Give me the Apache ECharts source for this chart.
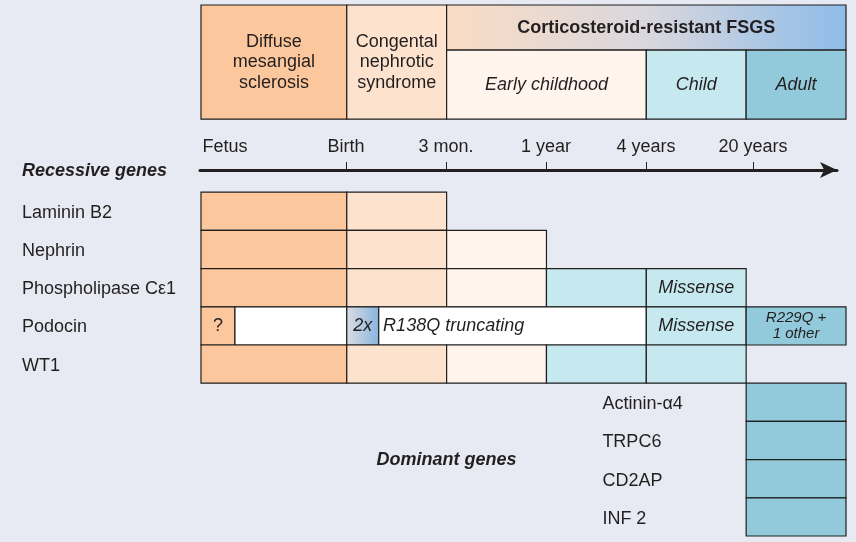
<!DOCTYPE html>
<html>
<head>
<meta charset="utf-8">
<script src="https://cdn.jsdelivr.net/npm/echarts@6/dist/echarts.min.js"></script>
<style>
html,body{margin:0;padding:0;background:#e7eaf2;}
#c{width:856px;height:542px;}
</style>
</head>
<body>
<div id="c"></div>
<script>
// ---------- data ----------
const stageNames = ['Fetus', 'Birth', '3 mon.', '1 year', '4 years', '20 years'];
const stageLabelValues = [-1.21, 0, 1, 2, 3, 4.07];
const stageTickValues = [0, 1, 2, 3, 4.07];
const timeStart = -1.46, timeEnd = 5, axisEnd = 4.91;
const rowTop = -4.9, rowBottom = 9;

const headerTitles = ['Diffuse\nmesangial\nsclerosis', 'Congental\nnephrotic\nsyndrome', 'Corticosteroid-resistant FSGS', 'Early childhood', 'Child', 'Adult'];
const headerSpans = [[-1.46, 0, -4.9, -1.91], [0, 1, -4.9, -1.91], [1, 5, -4.9, -3.72], [1, 3, -3.72, -1.91], [3, 4, -3.72, -1.91], [4, 5, -3.72, -1.91]];
const headerKinds = ['dms', 'cns', 'fsgs', 'early', 'child', 'adult'];

const recessiveTitle = 'Recessive genes';
const recessiveGenes = ['Laminin B2', 'Nephrin', 'Phospholipase C\u03b51', 'Podocin', 'WT1'];
const recessiveCells = [
  [[-1.46, 0, 'dms', ''], [0, 1, 'cns', '']],
  [[-1.46, 0, 'dms', ''], [0, 1, 'cns', ''], [1, 2, 'early', '']],
  [[-1.46, 0, 'dms', ''], [0, 1, 'cns', ''], [1, 2, 'early', ''], [2, 3, 'child', ''], [3, 4, 'child', 'Missense']],
  [[-1.46, -1.12, 'dms', '?'], [-1.12, 0, 'white', ''], [0, 0.32, 'twox', '2x'], [0.32, 3, 'white', 'R138Q truncating'], [3, 4, 'child', 'Missense'], [4, 5, 'adult', 'R229Q +\n1 other']],
  [[-1.46, 0, 'dms', ''], [0, 1, 'cns', ''], [1, 2, 'early', ''], [2, 3, 'child', ''], [3, 4, 'child', '']]
];

const dominantTitle = 'Dominant genes';
const dominantGenes = ['Actinin-\u03b14', 'TRPC6', 'CD2AP', 'INF 2'];
const dominantSpan = [4, 5];
const dominantFirstRow = 5;

// ---------- styles ----------
const FONT = '"Liberation Sans", Arial, Helvetica, sans-serif';
const INK = '#231f20';
const fills = {
  dms: '#fcc79c',
  cns: '#fde3cd',
  early: '#fff5ed',
  child: '#c6e9f0',
  adult: '#93cadb',
  white: '#ffffff',
  fsgs: new echarts.graphic.LinearGradient(0, 0, 1, 0, [
    {offset: 0, color: '#fadcc4'}, {offset: 0.5, color: '#d9d7dd'}, {offset: 1, color: '#8ebce9'}]),
  twox: new echarts.graphic.LinearGradient(0, 0, 1, 0, [
    {offset: 0, color: '#dcdde2'}, {offset: 1, color: '#88b4df'}])
};

// ---------- build cells ----------
const cells = [];
headerTitles.forEach((t, i) => {
  const s = headerSpans[i];
  cells.push({x0: s[0], x1: s[1], y0: s[2], y1: s[3], kind: headerKinds[i], text: t,
    bold: headerKinds[i] === 'fsgs', italic: i >= 3, pos: 'inside', size: 18});
});
recessiveCells.forEach((row, r) => {
  row.forEach(c => {
    cells.push({x0: c[0], x1: c[1], y0: r, y1: r + 1, kind: c[2], text: c[3],
      italic: c[3] !== '?' && c[3] !== '', pos: c[3] === 'R138Q truncating' ? 'insideLeft' : 'inside',
      size: c[3].indexOf('R229Q') === 0 ? 15 : 18});
  });
});
dominantGenes.forEach((g, i) => {
  cells.push({x0: dominantSpan[0], x1: dominantSpan[1], y0: dominantFirstRow + i, y1: dominantFirstRow + i + 1,
    kind: 'adult', text: '', pos: 'inside', size: 18});
});

const texts = [];
dominantGenes.forEach((g, i) => texts.push({x: 2.56, y: dominantFirstRow + i + 0.55, text: g, align: 'left', bold: false, italic: false}));
texts.push({x: 1, y: 7, text: dominantTitle, align: 'center', bold: true, italic: true});

const leftLabelValues = [-0.55].concat(recessiveGenes.map((g, i) => i + 0.54));
const leftLabelTexts = ['{b|' + recessiveTitle + '}'].concat(recessiveGenes);

const mainWidth = 645;
const axisWidth = (axisEnd - timeStart) / (timeEnd - timeStart) * mainWidth;

function nearest(arr, v) {
  let k = 0, best = 1e9;
  arr.forEach((s, i) => { if (Math.abs(s - v) < best) { best = Math.abs(s - v); k = i; } });
  return k;
}

const chart = echarts.init(document.getElementById('c'));
chart.setOption({
  backgroundColor: '#e7eaf2',
  animation: false,
  textStyle: {fontFamily: FONT},
  grid: [
    {left: 201, top: 5, width: mainWidth, height: 531},
    {left: 200, top: 150, width: axisWidth + 1, height: 20}
  ],
  xAxis: [
    {gridIndex: 0, type: 'value', min: timeStart, max: timeEnd, show: false},
    {gridIndex: 1, type: 'value', min: timeStart, max: axisEnd, position: 'bottom',
      splitLine: {show: false},
      axisLine: {show: true, lineStyle: {color: INK, width: 3}, symbol: ['none', 'arrow'], symbolSize: [12, 17]},
      axisTick: {show: true, inside: true, length: 8, customValues: stageTickValues, lineStyle: {color: INK, width: 1}},
      axisLabel: {show: true, inside: true, margin: 14, customValues: stageLabelValues, color: INK, fontSize: 18, fontFamily: FONT,
        formatter: v => stageNames[nearest(stageLabelValues, v)]}
    }
  ],
  yAxis: [
    {gridIndex: 0, type: 'value', inverse: true, min: rowTop, max: rowBottom,
      axisLine: {show: false}, axisTick: {show: false}, splitLine: {show: false},
      axisLabel: {show: true, customValues: leftLabelValues, align: 'left', margin: 179, color: INK, fontSize: 18, fontFamily: FONT,
        formatter: v => leftLabelTexts[nearest(leftLabelValues, v)],
        rich: {b: {fontWeight: 'bold', fontStyle: 'italic', fontSize: 18, color: INK, fontFamily: FONT}}
      }},
    {gridIndex: 1, type: 'value', show: false, min: 0, max: 1}
  ],
  series: [
    {
      type: 'custom', xAxisIndex: 0, yAxisIndex: 0, coordinateSystem: 'cartesian2d',
      data: cells.map(c => [c.x0, c.x1, c.y0, c.y1]),
      clip: false,
      renderItem: (params, api) => {
        const c = cells[params.dataIndex];
        const p0 = api.coord([c.x0, c.y0]);
        const p1 = api.coord([c.x1, c.y1]);
        return {
          type: 'rect',
          shape: {x: p0[0], y: p0[1], width: p1[0] - p0[0], height: p1[1] - p0[1]},
          style: {fill: fills[c.kind], stroke: '#1f1f1f', lineWidth: 1.2},
          textContent: c.text ? {
            style: {
              text: c.text, fill: INK, fontFamily: FONT, fontSize: c.size,
              fontWeight: c.bold ? 'bold' : 'normal', fontStyle: c.italic ? 'italic' : 'normal',
              align: c.pos === 'insideLeft' ? 'left' : 'center', verticalAlign: 'middle',
              lineHeight: c.size === 15 ? 16 : 20.5
            }
          } : undefined,
          textConfig: c.text ? {position: c.pos, distance: 5} : undefined
        };
      }
    },
    {
      type: 'custom', xAxisIndex: 0, yAxisIndex: 0, coordinateSystem: 'cartesian2d',
      data: texts.map(t => [t.x, t.y]),
      clip: false,
      renderItem: (params, api) => {
        const t = texts[params.dataIndex];
        const p = api.coord([t.x, t.y]);
        return {
          type: 'text', x: p[0], y: p[1],
          style: {text: t.text, fill: INK, fontFamily: FONT, fontSize: 18,
            fontWeight: t.bold ? 'bold' : 'normal', fontStyle: t.italic ? 'italic' : 'normal',
            align: t.align, verticalAlign: 'middle'}
        };
      }
    }
  ]
});
</script>
</body>
</html>
